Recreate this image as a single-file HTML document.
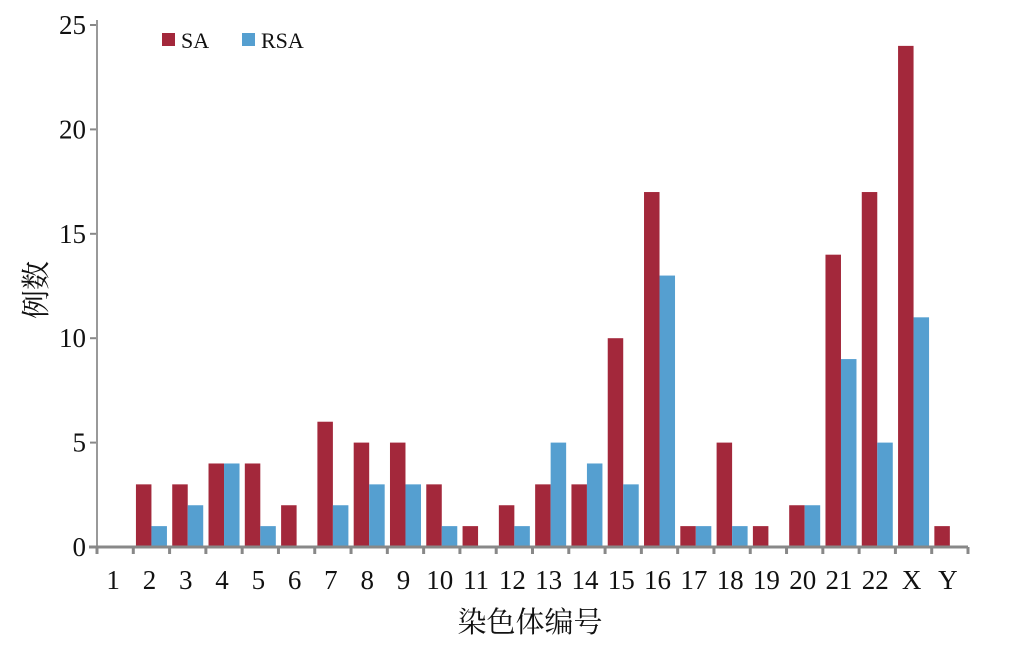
<!DOCTYPE html>
<html><head><meta charset="utf-8"><style>
html,body{margin:0;padding:0;background:#fff;}
svg text{font-family:"Liberation Serif","Noto Serif CJK SC",serif;fill:#111;}
</style></head><body>
<svg id="chart" width="1011" height="644" viewBox="0 0 1011 644" xmlns="http://www.w3.org/2000/svg"></svg>
<script>
const categories=["1","2","3","4","5","6","7","8","9","10","11","12","13","14","15","16","17","18","19","20","21","22","X","Y"];
const saValues=[0,3,3,4,4,2,6,5,5,3,1,2,3,3,10,17,1,5,1,2,14,17,24,1];
const rsaValues=[0,1,2,4,1,0,2,3,3,1,0,1,5,4,3,13,1,1,0,2,9,5,11,0];
const yTicks=[0,5,10,15,20,25];
const svg=document.getElementById('chart');
const NS='http://www.w3.org/2000/svg';
const x0=97,x1=968,y0=547,yTop=25,yMax=25;
const step=(x1-x0)/categories.length;
const yS=v=>y0-(y0-yTop)*v/yMax;
const xC=i=>x0+step*(i+0.5);
function mk(t,a,p){const e=document.createElementNS(NS,t);for(const k in a)e.setAttribute(k,a[k]);(p||svg).appendChild(e);return e;}
const bw=15.5;
categories.forEach((c,i)=>{
  const b1=mk('rect',{x:xC(i)-bw,y:yS(saValues[i]),width:bw,height:y0-yS(saValues[i]),fill:'#A3283B'});
  
  
  const b2=mk('rect',{x:xC(i),y:yS(rsaValues[i]),width:bw,height:y0-yS(rsaValues[i]),fill:'#559FD0'});
  
  
  const t=mk('text',{x:xC(i)-2,y:589,'font-size':27,'text-anchor':'middle'});
  t.textContent=c;
  
  
});
for(let i=0;i<=categories.length;i++){
  const tk=mk('line',{x1:x0+step*i,x2:x0+step*i,y1:y0,y2:y0+7,stroke:'#888','stroke-width':3});
  
  
}
yTicks.forEach(v=>{
  const tk=mk('line',{x1:x0-7,x2:x0,y1:yS(v),y2:yS(v),stroke:'#888','stroke-width':2});
  
  
  const t=mk('text',{x:x0-11,y:yS(v)+9,'font-size':27,'text-anchor':'end'});
  t.textContent=v;
  
  
});
const ya=mk('line',{x1:x0,x2:x0,y1:20,y2:y0+1,stroke:'#999','stroke-width':2});


const xa=mk('line',{x1:x0-8,x2:x1,y1:y0,y2:y0,stroke:'#888','stroke-width':3});


const xt=mk('text',{x:530,y:632,'font-size':29,'text-anchor':'middle'});
xt.textContent='染色体编号';


const yt=mk('text',{x:0,y:0,'font-size':29,'text-anchor':'middle',transform:'translate(46,290) rotate(-90)'});
yt.textContent='例数';


const lg=mk('g',{});


mk('rect',{x:162,y:33,width:13,height:13,fill:'#A3283B'},lg);
const l1=mk('text',{x:181,y:48,'font-size':22},lg);l1.textContent='SA';


mk('rect',{x:242,y:33,width:13,height:13,fill:'#559FD0'},lg);
const l2=mk('text',{x:261,y:48,'font-size':22},lg);l2.textContent='RSA';


</script>
</body></html>
